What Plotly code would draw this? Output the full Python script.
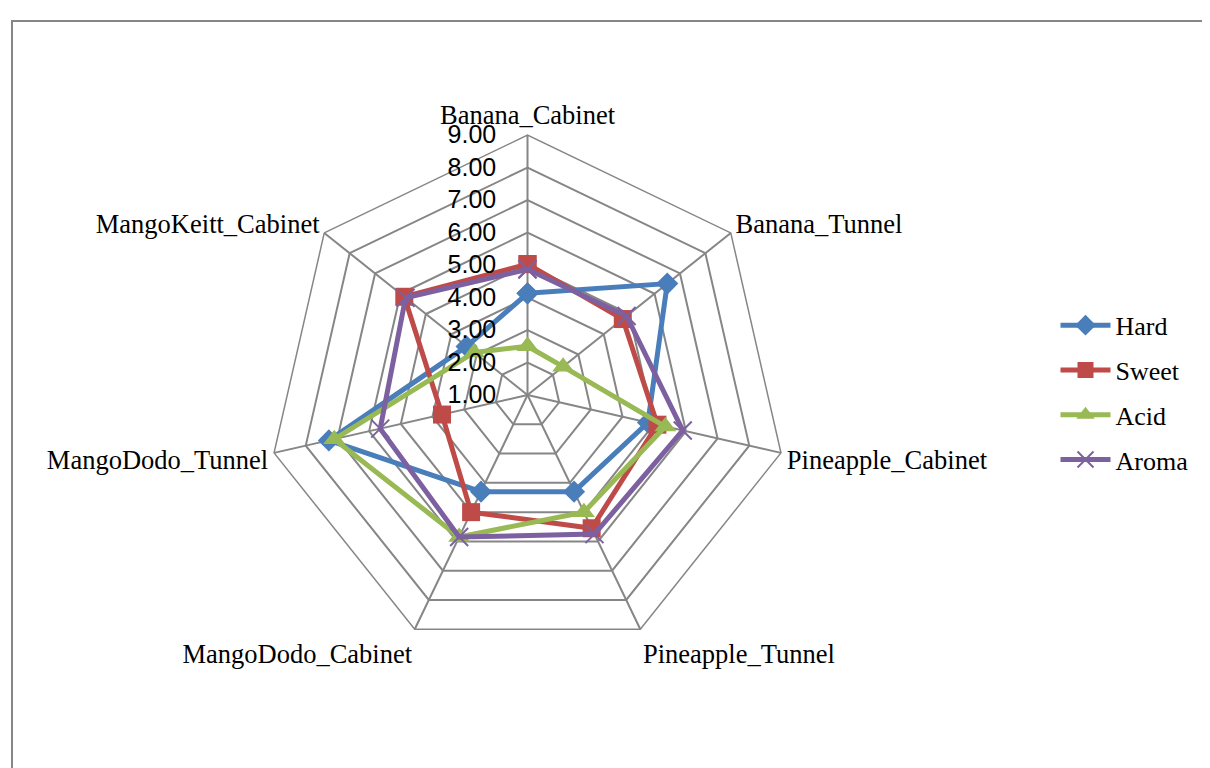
import plotly.graph_objects as go

categorias = ["Banana_Cabinet", "Banana_Tunnel", "Pineapple_Cabinet", "Pineapple_Tunnel",
              "MangoDodo_Cabinet", "MangoDodo_Tunnel", "MangoKeitt_Cabinet"]

hard = [4.13, 6.5, 4.8, 4.3, 4.3, 7.27, 3.4]
sweet = [5.03, 4.75, 5.1, 5.55, 5.0, 3.7, 5.85]
acid = [2.5, 2.4, 5.35, 5.0, 5.85, 7.1, 3.1]
aroma = [4.87, 4.9, 5.9, 5.75, 5.85, 5.65, 5.8]

ticks = [1, 2, 3, 4, 5, 6, 7, 8, 9]

series = [
    ("Hard", hard, "#4A7EBB", dict(symbol="diamond", size=17)),
    ("Sweet", sweet, "#BE4B48", dict(symbol="square", size=18)),
    ("Acid", acid, "#98B954", dict(symbol="triangle-up", size=19)),
    ("Aroma", aroma, "#7D60A0", dict(symbol="x-thin", size=18,
                                     line=dict(width=2, color="#7D60A0"))),
]

fig = go.Figure()

for nome, vals, cor, mk in series:
    # fecha o poligono repetindo o primeiro ponto
    fig.add_trace(go.Scatterpolar(
        r=vals + vals[:1],
        theta=categorias + categorias[:1],
        name=nome,
        legendgroup=nome,
        mode="lines+markers",
        line=dict(color=cor, width=5),
        marker=dict(color=cor, **mk),
    ))

fig.update_layout(
    width=1210, height=768,
    paper_bgcolor="white",
    margin=dict(l=0, r=0, t=0, b=0),
    showlegend=True,
    legend=dict(
        x=0.8657, y=0.499, xanchor="left", yanchor="middle",
        font=dict(family="Liberation Serif", size=26, color="black"),
        tracegroupgap=8, itemwidth=50,
    ),
    polar=dict(
        domain=dict(x=[0.2145, 0.6442], y=[0.1575, 0.8346]),
        bgcolor="white",
        radialaxis=dict(
            range=[1, 9], tickvals=ticks, tickformat=".2f",
            angle=90, tickangle=90, side="counterclockwise",
            showline=False, ticks="outside", ticklen=22,
            tickcolor="rgba(0,0,0,0)",
            gridcolor="#868686", gridwidth=1.5,
            tickfont=dict(family="Liberation Sans", size=25, color="black"),
        ),
        angularaxis=dict(
            rotation=90, direction="clockwise",
            gridcolor="#868686", gridwidth=1.5,
            showline=True, linecolor="#868686", linewidth=1.5,
            ticks="",
            tickfont=dict(family="Liberation Serif", size=26.5, color="black"),
        ),
        gridshape="linear",
    ),
    shapes=[dict(type="rect", xref="paper", yref="paper",
                 x0=4 / 1210, x1=1.02, y0=-0.02, y1=(768 - 13) / 768,
                 line=dict(color="#868686", width=2))],
)

fig.write_html("out.html")
